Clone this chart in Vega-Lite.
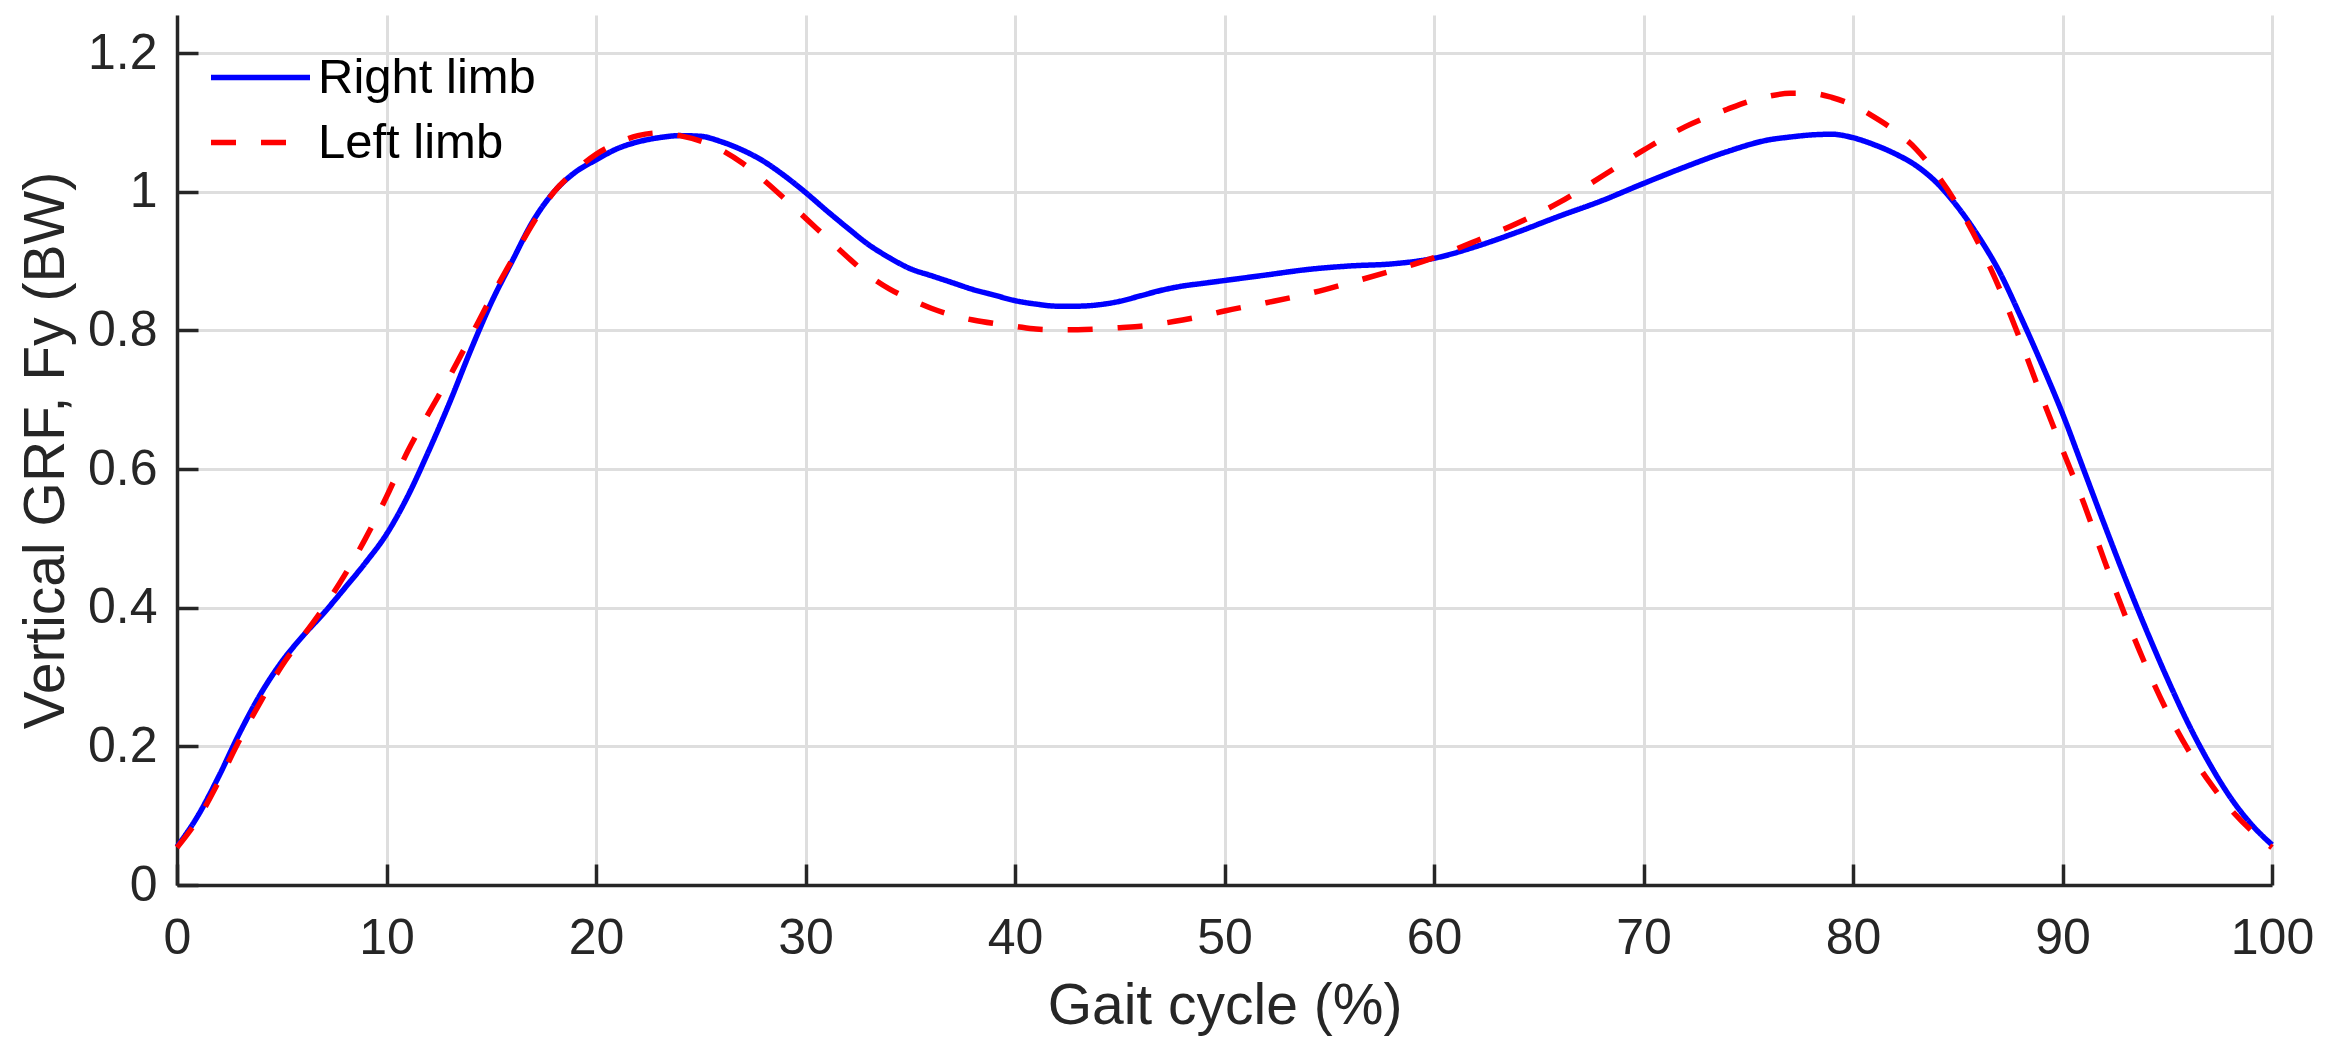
{
  "$schema": "https://vega.github.io/schema/vega-lite/v6.json",
  "width": 2095,
  "height": 870,
  "autosize": {"type": "none"},
  "padding": {"left": 177, "top": 15, "right": 55, "bottom": 169},
  "background": "white",
  "data": {
    "values": [
      {"gait": 0, "fy": 0.055, "limb": "Right limb"},
      {"gait": 1, "fy": 0.1, "limb": "Right limb"},
      {"gait": 2, "fy": 0.157, "limb": "Right limb"},
      {"gait": 3, "fy": 0.22, "limb": "Right limb"},
      {"gait": 4, "fy": 0.276, "limb": "Right limb"},
      {"gait": 5, "fy": 0.322, "limb": "Right limb"},
      {"gait": 6, "fy": 0.359, "limb": "Right limb"},
      {"gait": 7, "fy": 0.392, "limb": "Right limb"},
      {"gait": 8, "fy": 0.428, "limb": "Right limb"},
      {"gait": 9, "fy": 0.465, "limb": "Right limb"},
      {"gait": 10, "fy": 0.506, "limb": "Right limb"},
      {"gait": 11, "fy": 0.56, "limb": "Right limb"},
      {"gait": 12, "fy": 0.625, "limb": "Right limb"},
      {"gait": 13, "fy": 0.695, "limb": "Right limb"},
      {"gait": 14, "fy": 0.77, "limb": "Right limb"},
      {"gait": 15, "fy": 0.84, "limb": "Right limb"},
      {"gait": 16, "fy": 0.9, "limb": "Right limb"},
      {"gait": 17, "fy": 0.958, "limb": "Right limb"},
      {"gait": 18, "fy": 1.0, "limb": "Right limb"},
      {"gait": 19, "fy": 1.028, "limb": "Right limb"},
      {"gait": 20, "fy": 1.046, "limb": "Right limb"},
      {"gait": 21, "fy": 1.062, "limb": "Right limb"},
      {"gait": 22, "fy": 1.072, "limb": "Right limb"},
      {"gait": 23, "fy": 1.078, "limb": "Right limb"},
      {"gait": 24, "fy": 1.081, "limb": "Right limb"},
      {"gait": 25, "fy": 1.08, "limb": "Right limb"},
      {"gait": 26, "fy": 1.072, "limb": "Right limb"},
      {"gait": 27, "fy": 1.06, "limb": "Right limb"},
      {"gait": 28, "fy": 1.044, "limb": "Right limb"},
      {"gait": 29, "fy": 1.023, "limb": "Right limb"},
      {"gait": 30, "fy": 0.999, "limb": "Right limb"},
      {"gait": 31, "fy": 0.973, "limb": "Right limb"},
      {"gait": 32, "fy": 0.948, "limb": "Right limb"},
      {"gait": 33, "fy": 0.924, "limb": "Right limb"},
      {"gait": 34, "fy": 0.905, "limb": "Right limb"},
      {"gait": 35, "fy": 0.889, "limb": "Right limb"},
      {"gait": 36, "fy": 0.879, "limb": "Right limb"},
      {"gait": 37, "fy": 0.869, "limb": "Right limb"},
      {"gait": 38, "fy": 0.859, "limb": "Right limb"},
      {"gait": 39, "fy": 0.851, "limb": "Right limb"},
      {"gait": 40, "fy": 0.843, "limb": "Right limb"},
      {"gait": 41, "fy": 0.838, "limb": "Right limb"},
      {"gait": 42, "fy": 0.835, "limb": "Right limb"},
      {"gait": 43, "fy": 0.835, "limb": "Right limb"},
      {"gait": 44, "fy": 0.837, "limb": "Right limb"},
      {"gait": 45, "fy": 0.842, "limb": "Right limb"},
      {"gait": 46, "fy": 0.85, "limb": "Right limb"},
      {"gait": 47, "fy": 0.858, "limb": "Right limb"},
      {"gait": 48, "fy": 0.864, "limb": "Right limb"},
      {"gait": 49, "fy": 0.868, "limb": "Right limb"},
      {"gait": 50, "fy": 0.872, "limb": "Right limb"},
      {"gait": 52, "fy": 0.88, "limb": "Right limb"},
      {"gait": 54, "fy": 0.888, "limb": "Right limb"},
      {"gait": 56, "fy": 0.893, "limb": "Right limb"},
      {"gait": 58, "fy": 0.896, "limb": "Right limb"},
      {"gait": 60, "fy": 0.904, "limb": "Right limb"},
      {"gait": 62, "fy": 0.921, "limb": "Right limb"},
      {"gait": 64, "fy": 0.942, "limb": "Right limb"},
      {"gait": 66, "fy": 0.965, "limb": "Right limb"},
      {"gait": 68, "fy": 0.987, "limb": "Right limb"},
      {"gait": 70, "fy": 1.012, "limb": "Right limb"},
      {"gait": 72, "fy": 1.036, "limb": "Right limb"},
      {"gait": 74, "fy": 1.058, "limb": "Right limb"},
      {"gait": 76, "fy": 1.075, "limb": "Right limb"},
      {"gait": 77, "fy": 1.079, "limb": "Right limb"},
      {"gait": 78, "fy": 1.082, "limb": "Right limb"},
      {"gait": 79, "fy": 1.083, "limb": "Right limb"},
      {"gait": 80, "fy": 1.078, "limb": "Right limb"},
      {"gait": 81, "fy": 1.068, "limb": "Right limb"},
      {"gait": 82, "fy": 1.055, "limb": "Right limb"},
      {"gait": 83, "fy": 1.038, "limb": "Right limb"},
      {"gait": 84, "fy": 1.013, "limb": "Right limb"},
      {"gait": 85, "fy": 0.978, "limb": "Right limb"},
      {"gait": 86, "fy": 0.935, "limb": "Right limb"},
      {"gait": 87, "fy": 0.884, "limb": "Right limb"},
      {"gait": 88, "fy": 0.82, "limb": "Right limb"},
      {"gait": 89, "fy": 0.752, "limb": "Right limb"},
      {"gait": 90, "fy": 0.68, "limb": "Right limb"},
      {"gait": 91, "fy": 0.6, "limb": "Right limb"},
      {"gait": 92, "fy": 0.52, "limb": "Right limb"},
      {"gait": 93, "fy": 0.442, "limb": "Right limb"},
      {"gait": 94, "fy": 0.368, "limb": "Right limb"},
      {"gait": 95, "fy": 0.298, "limb": "Right limb"},
      {"gait": 96, "fy": 0.233, "limb": "Right limb"},
      {"gait": 97, "fy": 0.176, "limb": "Right limb"},
      {"gait": 98, "fy": 0.127, "limb": "Right limb"},
      {"gait": 99, "fy": 0.088, "limb": "Right limb"},
      {"gait": 100, "fy": 0.058, "limb": "Right limb"},
      {"gait": 0, "fy": 0.054, "limb": "Left limb"},
      {"gait": 1, "fy": 0.095, "limb": "Left limb"},
      {"gait": 2, "fy": 0.15, "limb": "Left limb"},
      {"gait": 3, "fy": 0.21, "limb": "Left limb"},
      {"gait": 4, "fy": 0.265, "limb": "Left limb"},
      {"gait": 5, "fy": 0.316, "limb": "Left limb"},
      {"gait": 6, "fy": 0.358, "limb": "Left limb"},
      {"gait": 7, "fy": 0.4, "limb": "Left limb"},
      {"gait": 8, "fy": 0.447, "limb": "Left limb"},
      {"gait": 9, "fy": 0.5, "limb": "Left limb"},
      {"gait": 10, "fy": 0.56, "limb": "Left limb"},
      {"gait": 11, "fy": 0.625, "limb": "Left limb"},
      {"gait": 12, "fy": 0.68, "limb": "Left limb"},
      {"gait": 13, "fy": 0.733, "limb": "Left limb"},
      {"gait": 14, "fy": 0.79, "limb": "Left limb"},
      {"gait": 15, "fy": 0.848, "limb": "Left limb"},
      {"gait": 16, "fy": 0.902, "limb": "Left limb"},
      {"gait": 17, "fy": 0.955, "limb": "Left limb"},
      {"gait": 18, "fy": 1.0, "limb": "Left limb"},
      {"gait": 19, "fy": 1.03, "limb": "Left limb"},
      {"gait": 20, "fy": 1.054, "limb": "Left limb"},
      {"gait": 21, "fy": 1.07, "limb": "Left limb"},
      {"gait": 22, "fy": 1.081, "limb": "Left limb"},
      {"gait": 23, "fy": 1.085, "limb": "Left limb"},
      {"gait": 24, "fy": 1.081, "limb": "Left limb"},
      {"gait": 25, "fy": 1.073, "limb": "Left limb"},
      {"gait": 26, "fy": 1.06, "limb": "Left limb"},
      {"gait": 27, "fy": 1.041, "limb": "Left limb"},
      {"gait": 28, "fy": 1.017, "limb": "Left limb"},
      {"gait": 29, "fy": 0.99, "limb": "Left limb"},
      {"gait": 30, "fy": 0.962, "limb": "Left limb"},
      {"gait": 31, "fy": 0.934, "limb": "Left limb"},
      {"gait": 32, "fy": 0.906, "limb": "Left limb"},
      {"gait": 33, "fy": 0.88, "limb": "Left limb"},
      {"gait": 34, "fy": 0.86, "limb": "Left limb"},
      {"gait": 35, "fy": 0.845, "limb": "Left limb"},
      {"gait": 36, "fy": 0.832, "limb": "Left limb"},
      {"gait": 37, "fy": 0.822, "limb": "Left limb"},
      {"gait": 38, "fy": 0.815, "limb": "Left limb"},
      {"gait": 39, "fy": 0.81, "limb": "Left limb"},
      {"gait": 40, "fy": 0.806, "limb": "Left limb"},
      {"gait": 41, "fy": 0.802, "limb": "Left limb"},
      {"gait": 42, "fy": 0.801, "limb": "Left limb"},
      {"gait": 43, "fy": 0.801, "limb": "Left limb"},
      {"gait": 44, "fy": 0.802, "limb": "Left limb"},
      {"gait": 45, "fy": 0.804, "limb": "Left limb"},
      {"gait": 46, "fy": 0.806, "limb": "Left limb"},
      {"gait": 47, "fy": 0.81, "limb": "Left limb"},
      {"gait": 48, "fy": 0.815, "limb": "Left limb"},
      {"gait": 49, "fy": 0.821, "limb": "Left limb"},
      {"gait": 50, "fy": 0.828, "limb": "Left limb"},
      {"gait": 52, "fy": 0.84, "limb": "Left limb"},
      {"gait": 54, "fy": 0.853, "limb": "Left limb"},
      {"gait": 56, "fy": 0.869, "limb": "Left limb"},
      {"gait": 58, "fy": 0.886, "limb": "Left limb"},
      {"gait": 60, "fy": 0.905, "limb": "Left limb"},
      {"gait": 62, "fy": 0.929, "limb": "Left limb"},
      {"gait": 64, "fy": 0.955, "limb": "Left limb"},
      {"gait": 66, "fy": 0.985, "limb": "Left limb"},
      {"gait": 68, "fy": 1.022, "limb": "Left limb"},
      {"gait": 70, "fy": 1.06, "limb": "Left limb"},
      {"gait": 72, "fy": 1.094, "limb": "Left limb"},
      {"gait": 74, "fy": 1.119, "limb": "Left limb"},
      {"gait": 75, "fy": 1.13, "limb": "Left limb"},
      {"gait": 76, "fy": 1.138, "limb": "Left limb"},
      {"gait": 77, "fy": 1.142, "limb": "Left limb"},
      {"gait": 78, "fy": 1.142, "limb": "Left limb"},
      {"gait": 79, "fy": 1.136, "limb": "Left limb"},
      {"gait": 80, "fy": 1.125, "limb": "Left limb"},
      {"gait": 81, "fy": 1.108, "limb": "Left limb"},
      {"gait": 82, "fy": 1.088, "limb": "Left limb"},
      {"gait": 83, "fy": 1.062, "limb": "Left limb"},
      {"gait": 84, "fy": 1.025, "limb": "Left limb"},
      {"gait": 85, "fy": 0.98, "limb": "Left limb"},
      {"gait": 86, "fy": 0.925, "limb": "Left limb"},
      {"gait": 87, "fy": 0.86, "limb": "Left limb"},
      {"gait": 88, "fy": 0.785, "limb": "Left limb"},
      {"gait": 89, "fy": 0.705, "limb": "Left limb"},
      {"gait": 90, "fy": 0.628, "limb": "Left limb"},
      {"gait": 91, "fy": 0.552, "limb": "Left limb"},
      {"gait": 92, "fy": 0.468, "limb": "Left limb"},
      {"gait": 93, "fy": 0.388, "limb": "Left limb"},
      {"gait": 94, "fy": 0.315, "limb": "Left limb"},
      {"gait": 95, "fy": 0.25, "limb": "Left limb"},
      {"gait": 96, "fy": 0.195, "limb": "Left limb"},
      {"gait": 97, "fy": 0.149, "limb": "Left limb"},
      {"gait": 98, "fy": 0.11, "limb": "Left limb"},
      {"gait": 99, "fy": 0.079, "limb": "Left limb"},
      {"gait": 100, "fy": 0.054, "limb": "Left limb"}
    ]
  },
  "mark": {"type": "line", "interpolate": "monotone", "strokeWidth": 5.5},
  "encoding": {
    "x": {
      "field": "gait",
      "type": "quantitative",
      "scale": {"domain": [0, 100], "nice": false, "zero": false},
      "axis": {
        "title": "Gait cycle (%)",
        "values": [0, 10, 20, 30, 40, 50, 60, 70, 80, 90, 100],
        "labelPadding": 49,
        "labelFlush": false,
        "labelOverlap": false,
        "titleY": 138,
        "titleBaseline": "alphabetic"
      }
    },
    "y": {
      "field": "fy",
      "type": "quantitative",
      "scale": {"domain": [0, 1.255], "nice": false},
      "axis": {
        "title": "Vertical GRF, Fy (BW)",
        "values": [0, 0.2, 0.4, 0.6, 0.8, 1, 1.2],
        "format": ".1~f",
        "labelPadding": 41,
        "labelOverlap": false,
        "titleX": -114,
        "titleY": 435,
        "titleAngle": -90,
        "titleAlign": "center",
        "titleBaseline": "alphabetic"
      }
    },
    "color": {
      "field": "limb",
      "type": "nominal",
      "sort": null,
      "scale": {"domain": ["Right limb", "Left limb"], "range": ["#0000ff", "#ff0000"]},
      "legend": {"title": null, "rowPadding": -13, "gridAlign": "none"}
    },
    "strokeDash": {
      "field": "limb",
      "type": "nominal",
      "sort": null,
      "scale": {"domain": ["Right limb", "Left limb"], "range": [[1, 0], [25, 25]]},
      "legend": {"title": null, "rowPadding": -13, "gridAlign": "none"}
    }
  },
  "config": {
    "view": {"stroke": null},
    "font": "Liberation Sans",
    "axis": {
      "domainColor": "#262626",
      "domainWidth": 3.5,
      "tickColor": "#262626",
      "tickWidth": 3.5,
      "tickSize": -21,
      "gridColor": "#dedede",
      "gridWidth": 3,
      "labelFont": "Liberation Sans",
      "labelFontSize": 50,
      "labelColor": "#262626",
      "titleFont": "Liberation Sans",
      "titleFontSize": 57,
      "titleFontWeight": "normal",
      "titleColor": "#262626"
    },
    "legend": {
      "orient": "none",
      "legendX": 31,
      "legendY": 10,
      "padding": 0,
      "symbolType": "stroke",
      "symbolSize": 9801,
      "symbolStrokeWidth": 5.5,
      "labelFont": "Liberation Sans",
      "labelFontSize": 49,
      "labelColor": "#000000",
      "labelOffset": 5,
      "labelLimit": 600
    }
  }
}
